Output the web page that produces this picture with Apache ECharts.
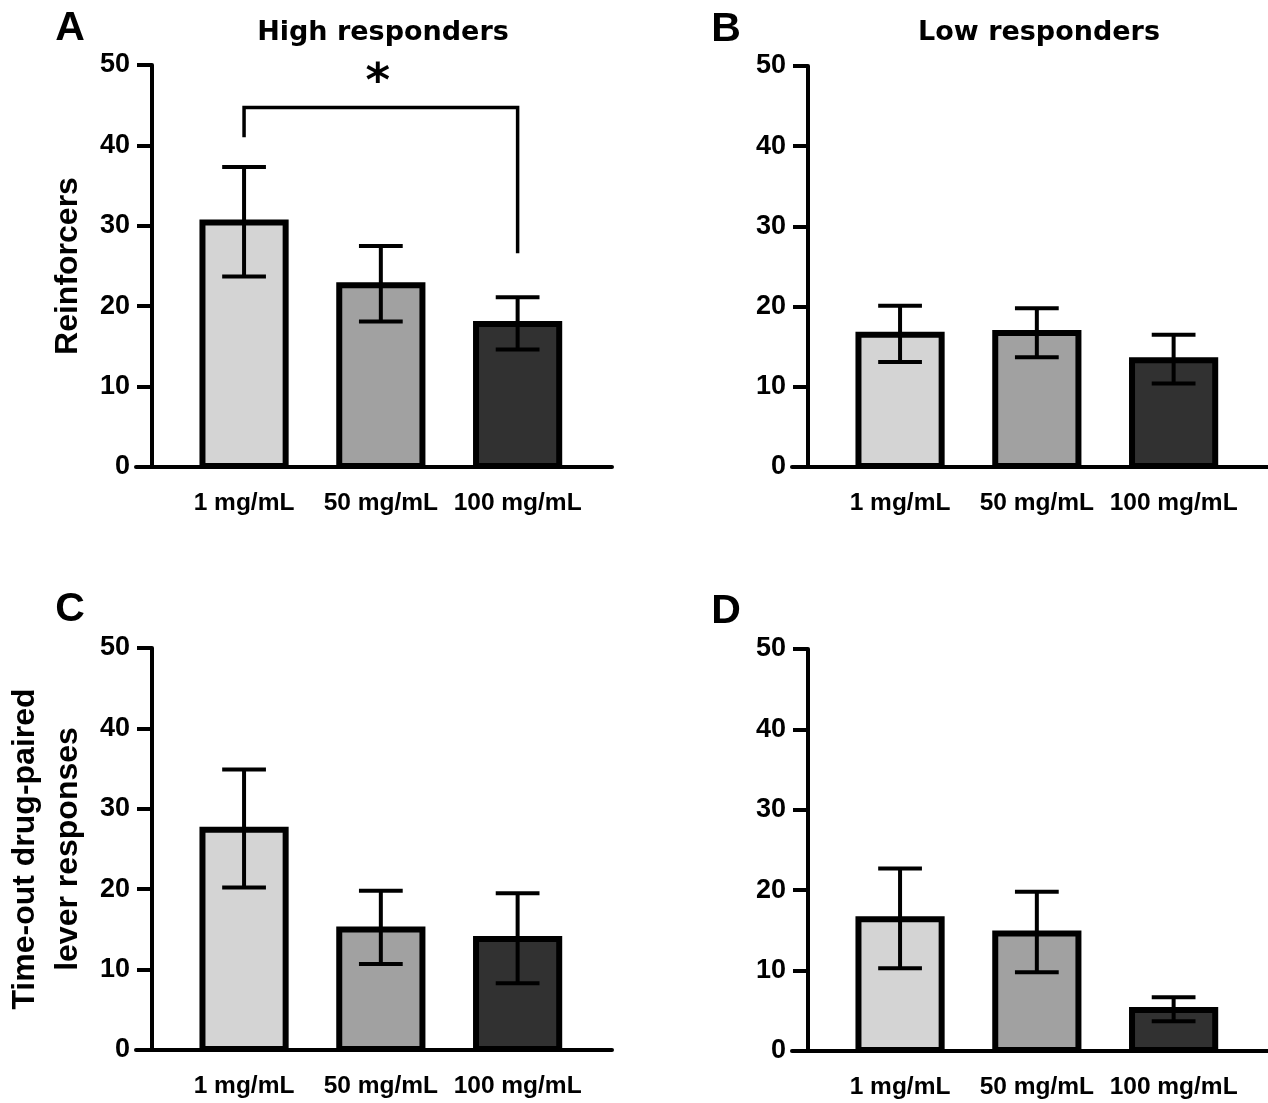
<!DOCTYPE html>
<html>
<head>
<meta charset="utf-8">
<title>Reinforcers and time-out responses</title>
<script src="https://cdn.jsdelivr.net/npm/echarts@6/dist/echarts.min.js"></script>
<style>
  html, body { margin: 0; padding: 0; background: #fff; }
  #chart { width: 1268px; height: 1103px; }
</style>
</head>
<body>
<div id="chart"></div>
<script>
var doses = ['1 mg/mL', '50 mg/mL', '100 mg/mL'];
var barColors = ['#d4d4d4', '#a1a1a1', '#313131'];

// mean, upper and lower error limits
var meanA = [30.4, 22.6, 17.8];
var upperA = [37.3, 27.5, 21.1];
var lowerA = [23.7, 18.1, 14.6];

var meanB = [16.5, 16.7, 13.3];
var upperB = [20.1, 19.8, 16.5];
var lowerB = [13.1, 13.7, 10.4];

var meanC = [27.4, 15.0, 13.8];
var upperC = [34.9, 19.8, 19.5];
var lowerC = [20.2, 10.7, 8.3];

var meanD = [16.4, 14.6, 5.1];
var upperD = [22.7, 19.8, 6.7];
var lowerD = [10.3, 9.8, 3.7];

// significance bracket in panel A (1 vs 100 mg/mL)
var sigPair = [0, 2];
var sigLevel = 44.7;
var sigLegs = [41.0, 26.6];
var sigStarLevel = 47.6;

var FONT = '"Liberation Sans", Arial, sans-serif';
var TITLE_FONT = '"DejaVu Sans", sans-serif';

var panels = [
  { letter: 'A', title: 'High responders', left: 136, top: 65, height: 402,
    letterX: 70, letterY: 29, titleX: 383,
    mean: meanA, upper: upperA, lower: lowerA, name: 'Reinforcers' },
  { letter: 'B', title: 'Low responders', left: 792, top: 66, height: 401,
    letterX: 726, letterY: 30, titleX: 1039,
    mean: meanB, upper: upperB, lower: lowerB, name: '' },
  { letter: 'C', title: '', left: 136, top: 648, height: 402,
    letterX: 70, letterY: 610,
    mean: meanC, upper: upperC, lower: lowerC, name: 'Time-out drug-paired\nlever responses' },
  { letter: 'D', title: '', left: 792, top: 649, height: 402,
    letterX: 726, letterY: 612,
    mean: meanD, upper: upperD, lower: lowerD, name: '' }
];

function renderBar(params, api) {
  var x = api.value(0);
  var top = api.coord([x, api.value(1)]);
  var base = api.coord([x, 0]);
  var hi = api.coord([x, api.value(2)]);
  var lo = api.coord([x, api.value(3)]);
  var band = api.size([1, 0])[0];
  var w = band * 0.652;
  var lw = 6;
  var cap = band * 0.16;
  var errStyle = { stroke: '#000', lineWidth: 4, fill: null };
  return {
    type: 'group',
    children: [
      {
        type: 'rect',
        shape: { x: top[0] - w / 2 + lw / 2, y: top[1], width: w - lw, height: base[1] - top[1] - 1 },
        style: { fill: barColors[x], stroke: '#000', lineWidth: lw }
      },
      { type: 'line', shape: { x1: hi[0], y1: hi[1], x2: lo[0], y2: lo[1] }, style: errStyle },
      { type: 'line', shape: { x1: hi[0] - cap, y1: hi[1], x2: hi[0] + cap, y2: hi[1] }, style: errStyle },
      { type: 'line', shape: { x1: lo[0] - cap, y1: lo[1], x2: lo[0] + cap, y2: lo[1] }, style: errStyle }
    ]
  };
}

function renderBracket(params, api) {
  var x0 = api.value(0), x1 = api.value(1);
  var a = api.coord([x0, api.value(3)]);
  var b = api.coord([x0, api.value(2)]);
  var c = api.coord([x1, api.value(2)]);
  var d = api.coord([x1, api.value(4)]);
  var s = api.coord([(x0 + x1) / 2, api.value(5)]);
  return {
    type: 'group',
    children: [
      { type: 'polyline', shape: { points: [a, b, c, d] },
        style: { stroke: '#000', lineWidth: 3.5, fill: null } },
      { type: 'text', x: s[0] - 3, y: s[1],
        style: { text: '*', fontSize: 47, fontWeight: 'bold', fontFamily: TITLE_FONT,
                 fill: '#000', align: 'center', verticalAlign: 'middle' } }
    ]
  };
}

var grids = [], xAxes = [], yAxes = [], series = [], graphics = [];

panels.forEach(function (p, i) {
  grids.push({ left: p.left, top: p.top, width: 476, height: p.height, outerBoundsMode: 'none' });
  xAxes.push({
    type: 'value', gridIndex: i, min: -0.79, max: 2.69,
    axisLine: { onZero: false, lineStyle: { color: '#000', width: 4 } },
    axisTick: { show: false },
    splitLine: { show: false },
    axisLabel: {
      customValues: [0, 1, 2],
      formatter: function (v) { return doses[Math.round(v)]; },
      color: '#000', fontSize: 24.5, fontWeight: 'bold', fontFamily: FONT, margin: 24
    }
  });
  yAxes.push({
    type: 'value', gridIndex: i, min: 0, max: 50, interval: 10, offset: -16,
    axisLine: { show: true, onZero: false, lineStyle: { color: '#000', width: 4 } },
    axisTick: { show: true, length: 15, lineStyle: { color: '#000', width: 4 } },
    splitLine: { show: false },
    axisLabel: { color: '#000', fontSize: 27, fontWeight: 'bold', fontFamily: FONT, margin: 22 },
    name: p.name,
    nameLocation: 'middle',
    nameGap: 62,
    nameTextStyle: { color: '#000', fontSize: 32, fontWeight: 'bold', fontFamily: FONT, lineHeight: 43 }
  });
  series.push({
    type: 'custom', xAxisIndex: i, yAxisIndex: i,
    renderItem: renderBar,
    encode: { x: 0, y: [1, 2, 3] },
    data: doses.map(function (d, j) { return [j, p.mean[j], p.upper[j], p.lower[j]]; }),
    animation: false
  });
  graphics.push({
    type: 'text', x: p.letterX, y: p.letterY,
    style: { text: p.letter, fontSize: 41, fontWeight: 'bold', fontFamily: FONT,
             fill: '#000', align: 'center', verticalAlign: 'middle' }
  });
  if (p.title) {
    graphics.push({
      type: 'text', x: p.titleX, y: 33,
      style: { text: p.title, fontSize: 27, fontWeight: 'bold', fontFamily: TITLE_FONT,
               fill: '#000', align: 'center', verticalAlign: 'middle' }
    });
  }
});

series.push({
  type: 'custom', xAxisIndex: 0, yAxisIndex: 0,
  renderItem: renderBracket,
  encode: { x: [0, 1], y: [2, 3, 4] },
  data: [[sigPair[0], sigPair[1], sigLevel, sigLegs[0], sigLegs[1], sigStarLevel]],
  animation: false,
  z: 3
});

var myChart = echarts.init(document.getElementById('chart'));
var option = {
  backgroundColor: '#fff',
  animation: false,
  grid: grids,
  xAxis: xAxes,
  yAxis: yAxes,
  series: series,
  graphic: { elements: graphics }
};
option && myChart.setOption(option);
</script>
</body>
</html>
